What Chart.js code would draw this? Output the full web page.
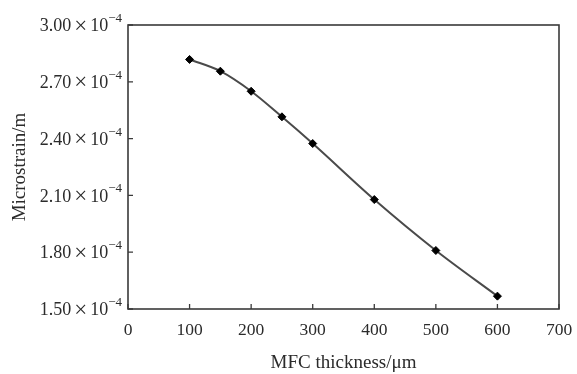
<!DOCTYPE html>
<html>
<head>
<meta charset="utf-8">
<script src="https://cdn.jsdelivr.net/npm/chart.js@4/dist/chart.umd.min.js"></script>
<style>
  html, body { margin: 0; padding: 0; background: #fff; }
  #wrap { width: 577px; height: 374px; }
</style>
</head>
<body>
<div id="wrap"><canvas id="c"></canvas></div>
<script>
// MFC thickness (um) vs microstrain (x10^-4 m)
const thickness = [100, 150, 200, 250, 300, 400, 500, 600]
const microstrain = [2.818, 2.756, 2.650, 2.515, 2.374, 2.078, 1.809, 1.568]
const xTicks = [0, 100, 200, 300, 400, 500, 600, 700]
const yTicks = [1.50, 1.80, 2.10, 2.40, 2.70, 3.00]

const serif = 'Liberation Serif'
const ink = '#2b2b2b'

// frame, inward tick marks and y labels with a superscript exponent
const framePlugin = {
    id: 'frame',
    afterDraw(chart) {
        const ctx = chart.ctx
        const a = chart.chartArea
        const xs = chart.scales.x
        const ys = chart.scales.y
        ctx.save()
        ctx.strokeStyle = '#3a3a3a'
        ctx.lineWidth = 1.6
        ctx.strokeRect(a.left, a.top, a.right - a.left, a.bottom - a.top)

        ctx.lineWidth = 1.3
        ctx.beginPath()
        xTicks.forEach(v => {
            const px = xs.getPixelForValue(v)
            ctx.moveTo(px, a.bottom)
            ctx.lineTo(px, a.bottom - 5)
        })
        yTicks.forEach(v => {
            const py = ys.getPixelForValue(v)
            ctx.moveTo(a.left, py)
            ctx.lineTo(a.left + 5, py)
        })
        ctx.stroke()

        ctx.fillStyle = ink
        ctx.textBaseline = 'middle'
        ctx.textAlign = 'left'
        yTicks.forEach(v => {
            const py = ys.getPixelForValue(v) + 1.5
            let x = a.left - 6
            ctx.font = '13px "' + serif + '"'
            const sup = '\u22124'
            x -= ctx.measureText(sup).width
            ctx.fillText(sup, x, py - 8)
            ctx.font = '18px "' + serif + '"'
            x -= ctx.measureText('10').width
            ctx.fillText('10', x, py)
            ctx.font = '23px "' + serif + '"'
            x -= ctx.measureText('\u00d7').width + 3
            ctx.fillText('\u00d7', x, py)
            ctx.font = '18px "' + serif + '"'
            const num = v.toFixed(2)
            x -= ctx.measureText(num).width + 3
            ctx.fillText(num, x, py)
        })
        ctx.restore()
    }
}

new Chart(document.getElementById('c'), {
    type: 'line',
    data: {
        datasets: [{
            data: thickness.map((t, i) => ({ x: t, y: microstrain[i] })),
            borderColor: '#4a4a4a',
            borderWidth: 2,
            cubicInterpolationMode: 'monotone',
            pointStyle: 'rectRot',
            pointRadius: 4,
            pointBackgroundColor: '#000',
            pointBorderColor: '#000',
            pointBorderWidth: 1
        }]
    },
    options: {
        responsive: true,
        maintainAspectRatio: false,
        animation: false,
        layout: { padding: { top: 25, right: 18, left: 0, bottom: 0 } },
        plugins: { legend: { display: false }, tooltip: { enabled: false } },
        scales: {
            x: {
                type: 'linear',
                min: 0,
                max: 700,
                afterBuildTicks: s => { s.ticks = xTicks.map(v => ({ value: v })) },
                afterFit: s => { s.height = 65; s.paddingLeft = 0; s.paddingRight = 0 },
                grid: { display: false, drawTicks: false },
                border: { display: false },
                ticks: {
                    padding: 11,
                    color: ink,
                    font: { family: serif, size: 17.5 },
                    maxRotation: 0
                },
                title: {
                    display: true,
                    text: 'MFC thickness/\u03bcm',
                    color: ink,
                    font: { family: serif, size: 19 },
                    padding: { top: 0, bottom: 0 }
                }
            },
            y: {
                min: 1.5,
                max: 3.0,
                afterBuildTicks: s => { s.ticks = yTicks.map(v => ({ value: v })) },
                afterFit: s => { s.width = 128; s.paddingTop = 0; s.paddingBottom = 0 },
                grid: { display: false, drawTicks: false },
                border: { display: false },
                ticks: { display: false },
                title: {
                    display: true,
                    text: 'Microstrain/m',
                    color: ink,
                    font: { family: serif, size: 19 },
                    padding: { top: 9, bottom: 0 }
                }
            }
        }
    },
    plugins: [framePlugin]
})
</script>
</body>
</html>
